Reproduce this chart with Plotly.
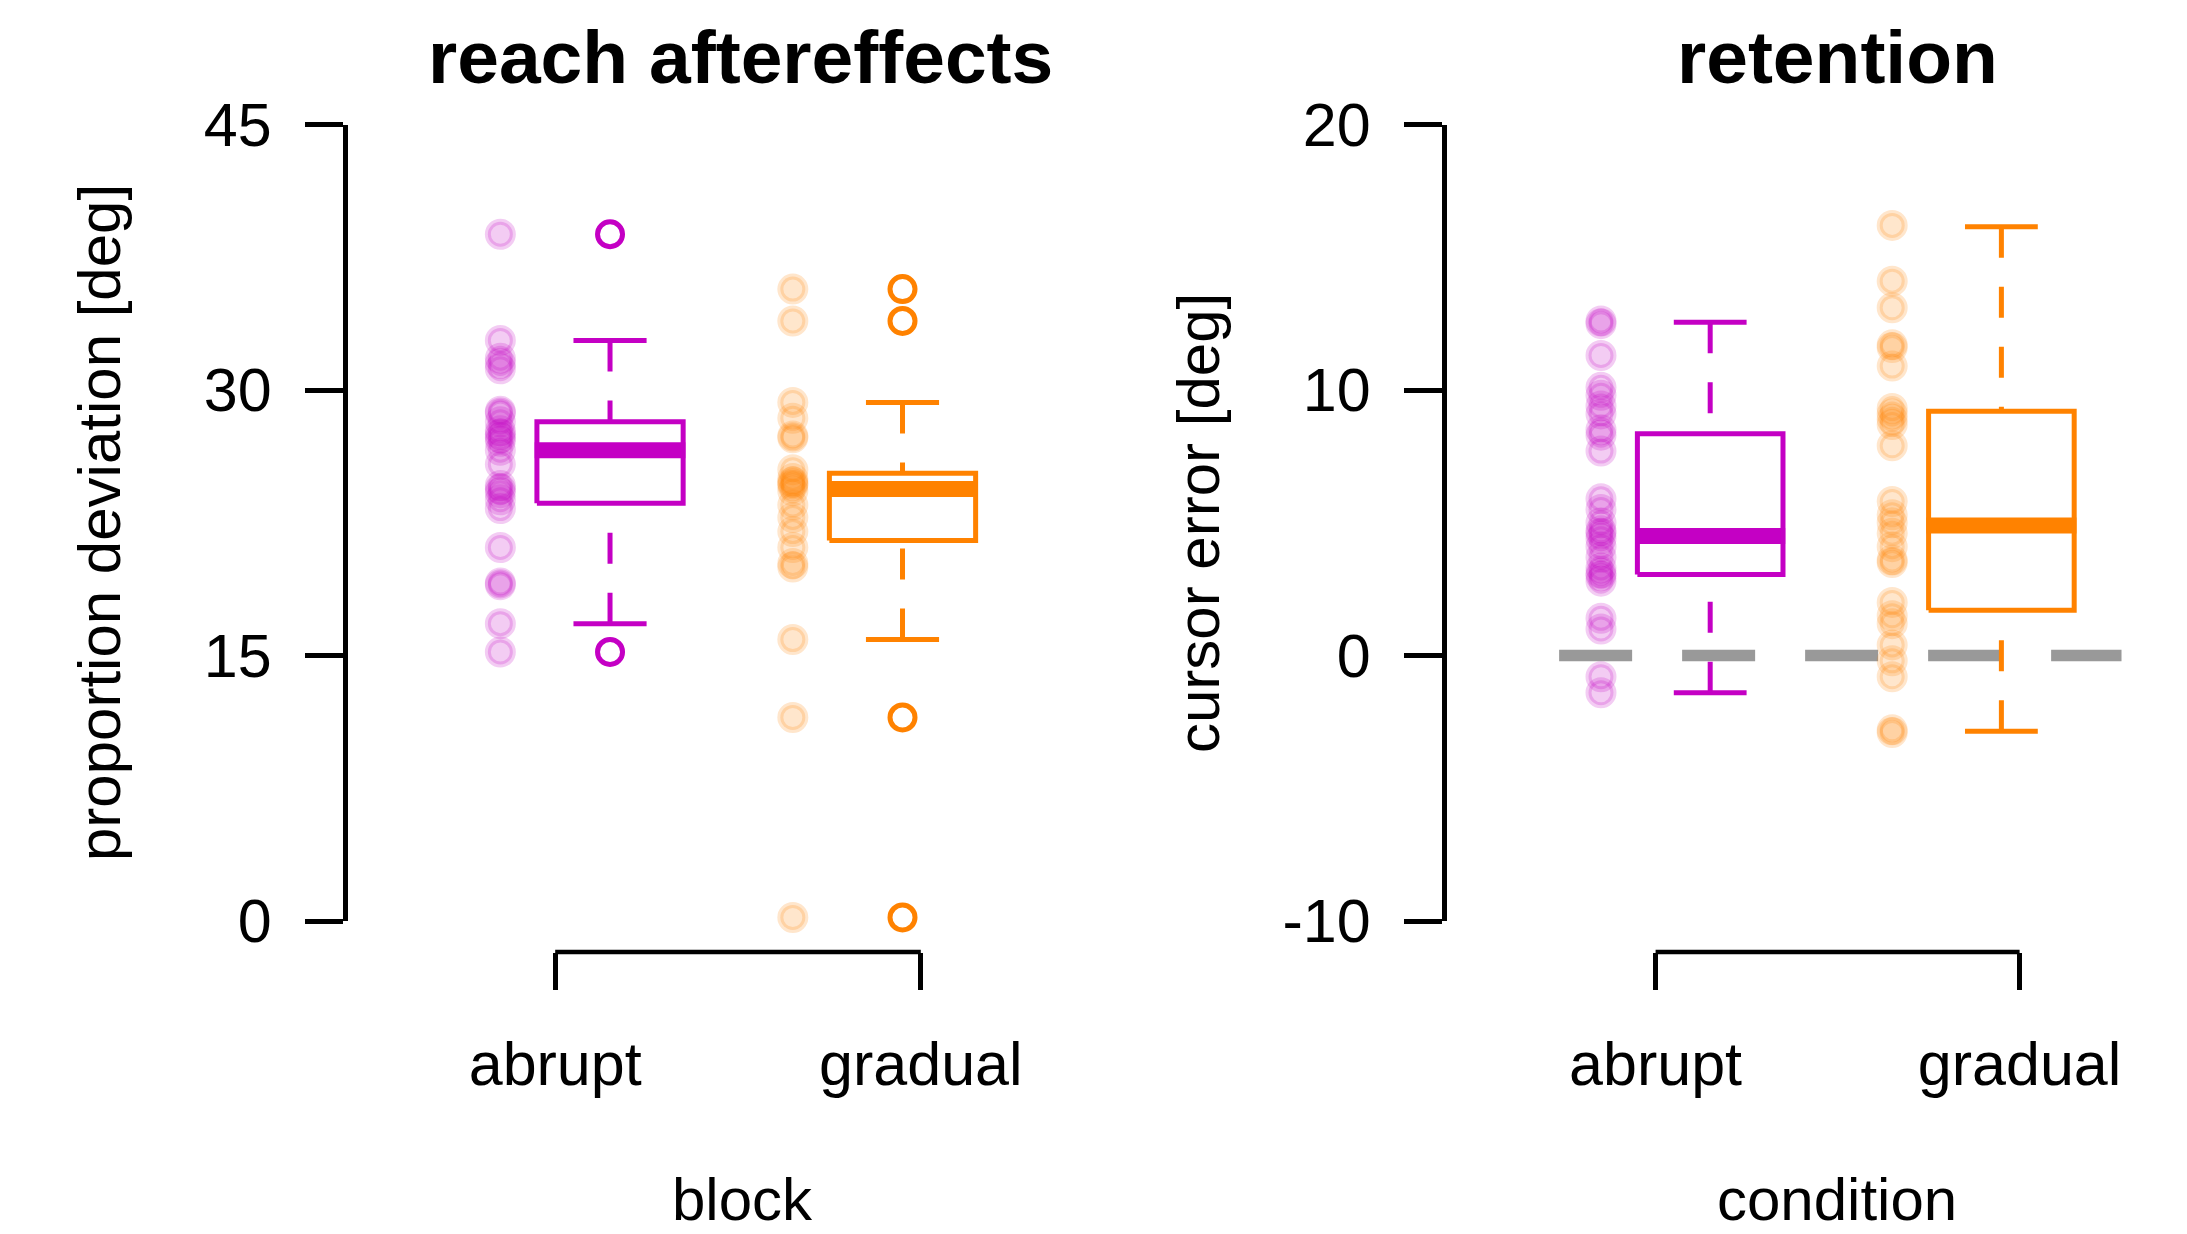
import plotly.graph_objects as go

# ---------------- data ----------------
categories = ["abrupt", "gradual"]
cat_ticks = [1, 2]            # axis tick positions of the categories
group_x = [1.0, 1.8]          # where each group is drawn

# reach aftereffects: individual participants
reach_abrupt = [38.8, 32.8, 31.8, 31.5, 31.2, 28.8, 28.7, 28.2, 27.7, 27.5, 27.3, 27.1,
                26.6, 25.8, 24.6, 24.4, 24.2, 23.8, 23.3, 21.1, 19.1, 19.0, 16.8, 15.2]
reach_gradual = [35.7, 33.9, 29.3, 28.4, 27.4, 27.3, 25.5, 25.0, 24.8, 24.7, 24.6, 24.3,
                 23.5, 22.8, 22.0, 21.1, 20.2, 20.0, 15.9, 11.5, 0.2]
# boxplot summaries: lower whisker, Q1, median, Q3, upper whisker
reach_abrupt_box = [16.8, 23.6, 26.6, 28.2, 32.8]
reach_gradual_box = [15.9, 21.5, 24.4, 25.3, 29.3]
reach_abrupt_out = [38.8, 15.2]
reach_gradual_out = [35.7, 33.9, 11.5, 0.2]

# retention: individual participants
ret_abrupt = [12.6, 12.5, 11.3, 10.1, 9.8, 9.4, 9.1, 8.5, 8.3, 7.7, 5.9, 5.5, 5.0,
              4.7, 4.6, 4.4, 4.1, 3.7, 3.3, 3.1, 3.0, 2.8, 1.4, 1.0, -0.8, -1.4]
ret_gradual = [16.2, 14.1, 13.1, 11.7, 11.6, 10.9, 9.3, 9.1, 8.9, 8.7, 7.9, 5.8, 5.3,
               5.0, 4.6, 4.1, 3.6, 3.5, 2.0, 1.5, 1.2, 0.4, -0.2, -0.8, -2.8, -2.9]
ret_abrupt_box = [-1.4, 3.05, 4.5, 8.35, 12.55]
ret_gradual_box = [-2.85, 1.7, 4.9, 9.2, 16.15]
ret_abrupt_out = []
ret_gradual_out = []

reach_ticks = [0, 15, 30, 45]
ret_ticks = [-10, 0, 10, 20]
zero_line_x = [0.735, 2.28]

# ---------------- style ----------------
W, H = 2187, 1234
FONT = "Liberation Sans, Arial, Helvetica, sans-serif"
COLS = ["#c400c4", "#ff8200"]
COLS_T = ["rgba(196,0,196,0.2)", "rgba(255,130,0,0.2)"]
DOT_OFF, BOX_OFF, BOX_HW, CAP_HW = -0.15, 0.15, 0.2, 0.1

def px_x(p):
    return p / W

def px_y(p):
    return 1 - p / H

fig = go.Figure()

def add_group(xa, ya, gi, pts, box, outs):
    c = COLS[gi]
    gx = group_x[gi]
    fig.add_trace(go.Scatter(
        x=[gx + DOT_OFF] * len(pts), y=pts, mode="markers", xaxis=xa, yaxis=ya,
        marker=dict(size=25, color=COLS_T[gi], line=dict(width=6, color=COLS_T[gi])),
        cliponaxis=False, showlegend=False, hoverinfo="y"))
    lo, q1, med, q3, hi = box
    bx = gx + BOX_OFF
    for a, b in ((hi, q3), (lo, q1)):
        fig.add_trace(go.Scatter(
            x=[bx, bx], y=[a, b], mode="lines", xaxis=xa, yaxis=ya,
            line=dict(color=c, width=5, dash="31px,29px"),
            cliponaxis=False, showlegend=False, hoverinfo="skip"))
    for v in (hi, lo):
        fig.add_trace(go.Scatter(
            x=[bx - CAP_HW, bx + CAP_HW], y=[v, v], mode="lines", xaxis=xa, yaxis=ya,
            line=dict(color=c, width=5), cliponaxis=False, showlegend=False,
            hoverinfo="skip"))
    fig.add_trace(go.Scatter(
        x=[bx - BOX_HW, bx + BOX_HW, bx + BOX_HW, bx - BOX_HW, bx - BOX_HW],
        y=[q1, q1, q3, q3, q1], mode="lines", xaxis=xa, yaxis=ya,
        fill="toself", fillcolor="white",
        line=dict(color=c, width=5), cliponaxis=False, showlegend=False,
        hoverinfo="skip"))
    fig.add_trace(go.Scatter(
        x=[bx - BOX_HW - 0.006, bx + BOX_HW + 0.006], y=[med, med], mode="lines",
        xaxis=xa, yaxis=ya, line=dict(color=c, width=16), cliponaxis=False,
        showlegend=False, hoverinfo="skip"))
    if outs:
        fig.add_trace(go.Scatter(
            x=[bx] * len(outs), y=outs, mode="markers", xaxis=xa, yaxis=ya,
            marker=dict(symbol="circle-open", size=25, color=c, line=dict(width=5, color=c)),
            cliponaxis=False, showlegend=False, hoverinfo="y"))

fig.add_trace(go.Scatter(
    x=zero_line_x, y=[0, 0], mode="lines", xaxis="x2", yaxis="y2",
    line=dict(color="#999999", width=11.5, dash="73px,50px"),
    cliponaxis=False, showlegend=False, hoverinfo="skip"))

add_group("x", "y", 0, reach_abrupt, reach_abrupt_box, reach_abrupt_out)
add_group("x", "y", 1, reach_gradual, reach_gradual_box, reach_gradual_out)
add_group("x2", "y2", 0, ret_abrupt, ret_abrupt_box, ret_abrupt_out)
add_group("x2", "y2", 1, ret_gradual, ret_gradual_box, ret_gradual_out)

ydom = [px_y(921), px_y(124.5)]
LW = 4.5
tickfont = dict(family=FONT, size=61, color="black")

xcommon = dict(anchor="free", position=px_y(952), tickmode="array", tickvals=cat_ticks,
               ticktext=categories, ticks="outside", ticklen=37, tickwidth=LW,
               tickcolor="black", showline=False, showgrid=False, zeroline=False,
               tickfont=tickfont, ticklabelstandoff=22, automargin=False)
ycommon = dict(anchor="free", tickmode="array", ticks="outside", ticklen=38, tickwidth=LW,
               tickcolor="black", showline=True, linewidth=LW, linecolor="black",
               showgrid=False, zeroline=False, tickfont=tickfont, ticklabelstandoff=21,
               domain=ydom, automargin=False)

x1_left, x1_px_per = 0.424, 365.6
x2_left, x2_px_per = 0.4176, 364.0

fig.update_layout(
    width=W, height=H, margin=dict(l=0, r=0, t=0, b=0, pad=0, autoexpand=False),
    paper_bgcolor="white", plot_bgcolor="white",
    xaxis=dict(domain=[px_x(344.6), px_x(1131)],
               range=[x1_left, x1_left + (1131 - 344.6) / x1_px_per], **xcommon),
    xaxis2=dict(domain=[px_x(1443.6), 1.0],
                range=[x2_left, x2_left + (W - 1443.6) / x2_px_per], **xcommon),
    yaxis=dict(range=[reach_ticks[0], reach_ticks[-1]], tickvals=reach_ticks,
               ticktext=[str(v) for v in reach_ticks],
               position=px_x(344.6), **ycommon),
    yaxis2=dict(range=[ret_ticks[0], ret_ticks[-1]], tickvals=ret_ticks,
                ticktext=[str(v) for v in ret_ticks],
                position=px_x(1443.6), **ycommon),
)

for xr in ("x", "x2"):
    fig.add_shape(type="line", xref=xr, yref="paper", x0=cat_ticks[0], x1=cat_ticks[1],
                  y0=px_y(952), y1=px_y(952), line=dict(color="black", width=LW))

def ann(text, x, y, size=60, bold=False, angle=0, yanchor="middle"):
    fig.add_annotation(text=f"<b>{text}</b>" if bold else text, x=px_x(x), y=px_y(y),
                       xref="paper", yref="paper", showarrow=False, textangle=angle,
                       xanchor="center", yanchor=yanchor, borderpad=0,
                       font=dict(family=FONT, size=size, color="black"))

ann("reach aftereffects", 740.5, 57, size=75, bold=True)
ann("retention", 1837, 57, size=75, bold=True)
ann("block", 742, 1234, yanchor="bottom")
ann("condition", 1837, 1234, yanchor="bottom")
ann("proportion deviation [deg]", 99, 523, angle=-90)
ann("cursor error [deg]", 1198, 523, angle=-90)

fig.write_html("out.html")
